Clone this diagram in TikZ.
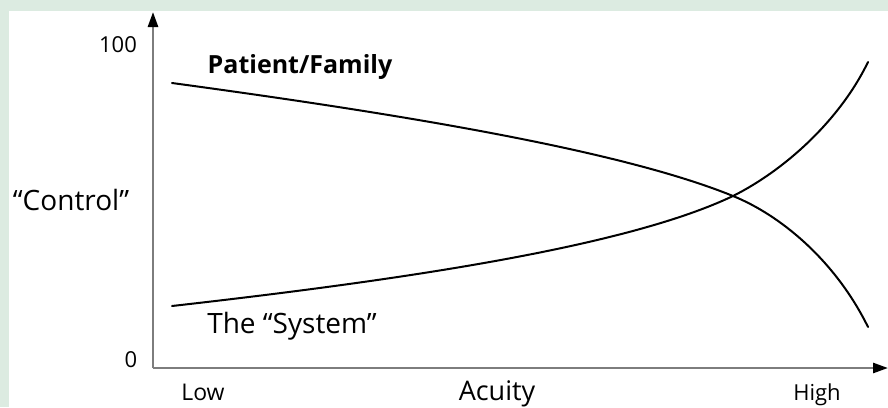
\documentclass[tikz,border=0pt]{standalone}
\usepackage{fontspec}
\setmainfont{Open Sans}
\usetikzlibrary{arrows.meta}
\definecolor{framegreen}{RGB}{220,235,225}
\definecolor{axisgray}{RGB}{125,125,125}

\begin{document}
\begin{tikzpicture}[x=1pt,y=-1pt,
  axis/.style={axisgray,line width=2.6pt,-{Triangle[width=10pt,length=15pt,color=black]}},
  curve/.style={black,line width=2pt,line cap=round},
  lbl/.style={anchor=base,inner sep=0pt,font=\fontsize{22}{24}\selectfont}]
\useasboundingbox (0,0) rectangle (888,407);
\fill[framegreen] (0,0) rectangle (888,407);
\fill[white] (8.5,11) rectangle (888,407);

\coordinate (origin) at (153,368);
\coordinate (ytop) at (153,12);
\coordinate (xend) at (888,368);
\draw[axis] (origin) -- (ytop);
\draw[axis] (origin) -- (xend);

\draw node[lbl] (hundred) at (118,52){100};
\draw node[lbl] (zero) at (131,367){0};
\draw node[lbl,font=\fontsize{23}{25}\selectfont] (low) at (203,400){Low};
\draw node[lbl] (high) at (817,400){High};
\draw node[lbl,font=\fontsize{27}{29}\selectfont] (acuity) at (497,400){Acuity};
\draw node[lbl,font=\fontsize{28}{30}\selectfont] (control) at (71,210){“Control”};

% both curves meet at the crossing
\coordinate (cross) at (733,196);
\coordinate (pstart) at (172,83);
\coordinate (pend) at (868,327);
\coordinate (sstart) at (172,306);
\coordinate (send) at (868,62);
\draw[curve] (pstart) .. controls (400,114) and (620,150) .. (cross)
  .. controls (780,215) and (835,260) .. (pend);
\draw[curve] (sstart) .. controls (420,278) and (630,245) .. (cross)
  .. controls (785,170) and (840,120) .. (send);

\draw node[lbl,font=\fontsize{25}{27}\selectfont\bfseries] (patient) at (300,73){Patient/Family};
\draw node[lbl,font=\fontsize{28}{30}\selectfont] (system) at (292,333){The “System”};
\end{tikzpicture}
\end{document}
